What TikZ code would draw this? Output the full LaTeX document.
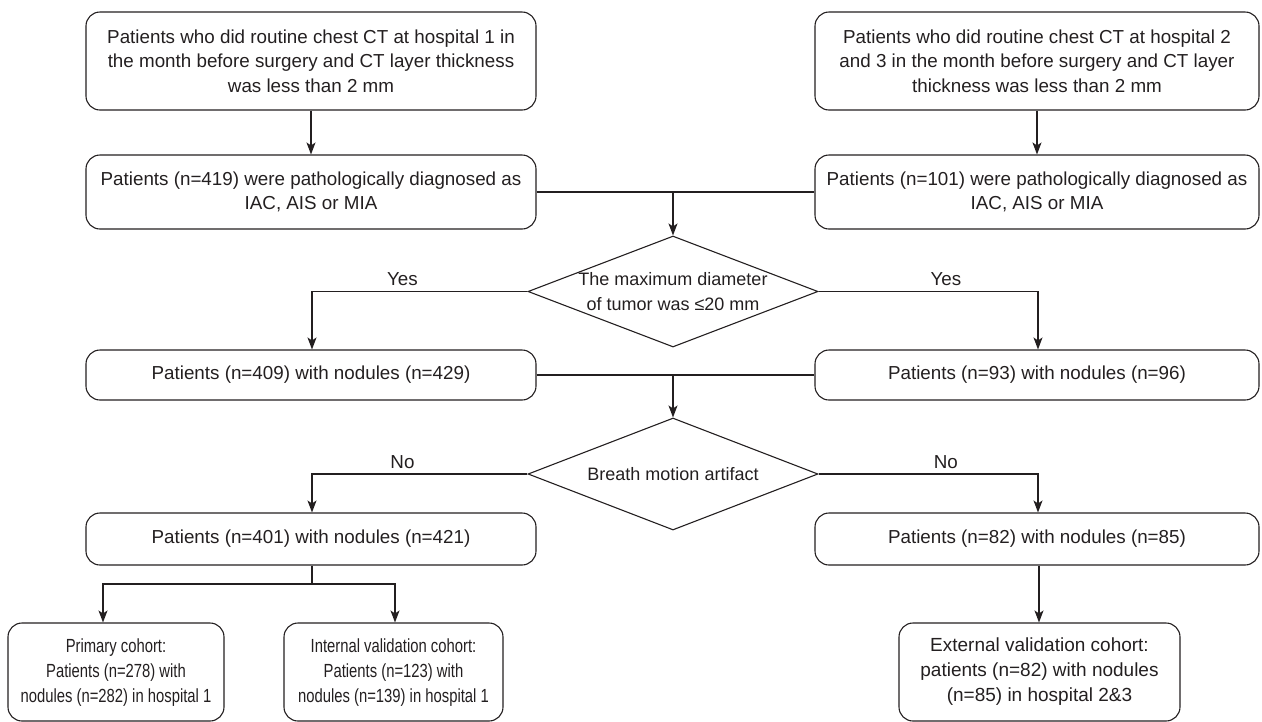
\documentclass[tikz,border=0pt]{standalone}
\usepackage{fontspec}
\setmainfont{Liberation Sans}
\usetikzlibrary{shapes.geometric,arrows.meta}
\definecolor{ink}{HTML}{231F20}
\newcommand{\narrowtext}[1]{\scalebox{0.78}[1]{\fontsize{19}{25}\selectfont\begin{tabular}{@{}c@{}}#1\end{tabular}}}
\begin{document}
\begin{tikzpicture}[x=1pt,y=-1pt,
  every node/.style={text=ink,font=\fontsize{18.8}{24.5}\selectfont},
  rbox/.style={draw=ink,line width=1.1pt,rounded corners=14pt,align=center,inner sep=0pt},
  dia/.style={draw=ink,line width=1.1pt,diamond,inner sep=0pt},
  diatext/.style={align=center,inner sep=0pt,font=\fontsize{18}{24.5}\selectfont},
  con/.style={draw=ink,line width=1.1pt},
  arr/.style={con,-{Stealth[length=12pt,width=9pt,inset=3pt]}},
  lbl/.style={inner sep=1pt}]
\useasboundingbox (0,0) rectangle (1262,721);
\node[rbox,minimum width=450pt,minimum height=98pt] (a1) at (311,61) {Patients who did routine chest CT at hospital 1 in\\the month before surgery and CT layer thickness\\was less than 2 mm};
\node[rbox,minimum width=444pt,minimum height=98pt] (a2) at (1037,61) {Patients who did routine chest CT at hospital 2\\and 3 in the month before surgery and CT layer\\thickness was less than 2 mm};
\node[rbox,minimum width=450pt,minimum height=74pt] (b1) at (311,192) {Patients (n=419) were pathologically diagnosed as\\IAC, AIS or MIA};
\node[rbox,minimum width=444pt,minimum height=74pt] (b2) at (1037,192) {Patients (n=101) were pathologically diagnosed as\\IAC, AIS or MIA};
\node[dia,minimum width=290pt,minimum height=111pt] (d1) at (673,291.5) {};
\node[diatext] (d1t) at (d1.center) {The maximum diameter\\of tumor was ≤20 mm};
\node[rbox,minimum width=450pt,minimum height=50pt] (c1) at (311,375) {Patients (n=409) with nodules (n=429)};
\node[rbox,minimum width=444pt,minimum height=50pt] (c2) at (1037,375) {Patients (n=93) with nodules (n=96)};
\node[dia,minimum width=290pt,minimum height=112pt] (d2) at (673,474) {};
\node[diatext] (d2t) at (d2.center) {Breath motion artifact};
\node[rbox,minimum width=450pt,minimum height=52pt] (e1) at (311,539) {Patients (n=401) with nodules (n=421)};
\node[rbox,minimum width=444pt,minimum height=52pt] (e2) at (1037,539) {Patients (n=82) with nodules (n=85)};
\node[rbox,minimum width=216pt,minimum height=98pt] (f1) at (116,672) {\narrowtext{Primary cohort:\\Patients (n=278) with\\nodules (n=282) in hospital 1}};
\node[rbox,minimum width=219pt,minimum height=98pt] (f2) at (393.5,672) {\narrowtext{Internal validation cohort:\\Patients (n=123) with\\nodules (n=139) in hospital 1}};
\node[rbox,minimum width=281pt,minimum height=98pt,font=\fontsize{19}{25}\selectfont] (f3) at (1039.5,672) {External validation cohort:\\patients (n=82) with nodules\\(n=85) in hospital 2\&3};
% connectors
\draw[arr] (a1) -- (b1);
\draw[arr] (a2) -- (b2);
\draw[con] (b1.east) -- (b2.west);
\coordinate (j1) at (d1.north |- b1.east);
\draw[arr] (j1) -- (d1.north);
\draw[arr] (d1.west) -| node[lbl,pos=0.29,above=4pt] {Yes} (c1.north -| 312,0);
\draw[arr] (d1.east) -| node[lbl,pos=0.29,above=4pt] {Yes} (c2.north -| 1038,0);
\draw[con] (c1.east) -- (c2.west);
\coordinate (j2) at (d2.north |- c1.east);
\draw[arr] (j2) -- (d2.north);
\draw[arr] (d2.west) -| node[lbl,pos=0.29,above=4pt] {No} (e1.north -| 312,0);
\draw[arr] (d2.east) -| node[lbl,pos=0.29,above=4pt] {No} (e2.north -| 1038,0);
\coordinate (j3) at (312,584);
\draw[con] (e1.south -| j3) -- (j3);
\draw[arr] (j3) -| (f1.north -| 103,0);
\draw[arr] (j3) -| (f2.north -| 395,0);
\draw[arr] (e2.south -| 1039,0) -- (f3.north -| 1039,0);
\end{tikzpicture}
\end{document}
